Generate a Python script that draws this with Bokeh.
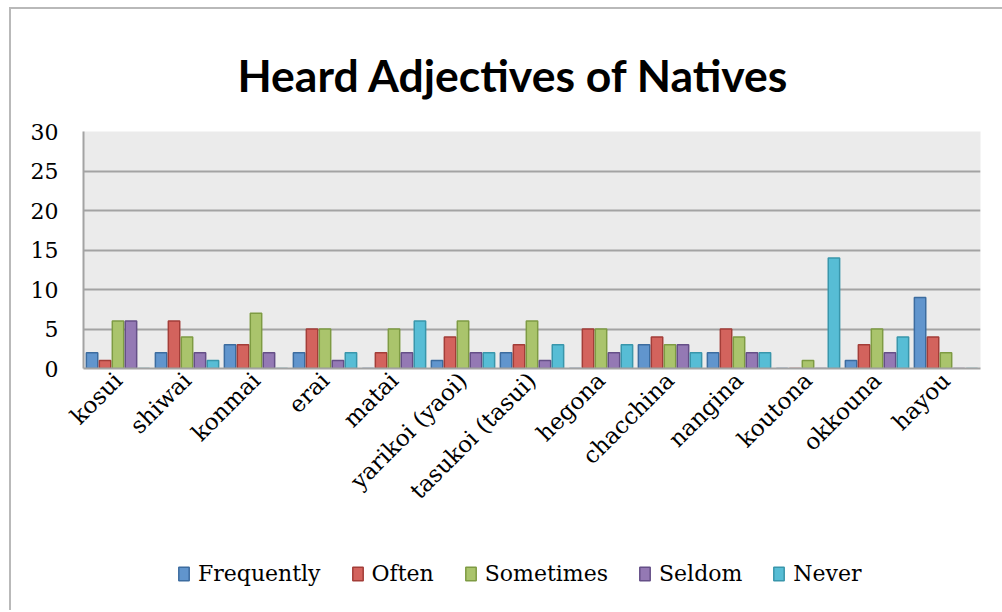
import math
import numpy as np
from bokeh.plotting import figure
from bokeh.models import FactorRange, Legend, LegendItem, ColumnDataSource, Range1d
from bokeh.layouts import column
from bokeh.transform import dodge
from bokeh.embed import file_html
from bokeh.resources import INLINE

categories = ["kosui", "shiwai", "konmai", "erai", "matai", "yarikoi (yaoi)",
              "tasukoi (tasui)", "hegona", "chacchina", "nangina", "koutona",
              "okkouna", "hayou"]
frequently = [2, 2, 3, 2, 0, 1, 2, 0, 3, 2, 0, 1, 9]
often      = [1, 6, 3, 5, 2, 4, 3, 5, 4, 5, 0, 3, 4]
sometimes  = [6, 4, 7, 5, 5, 6, 6, 5, 3, 4, 1, 5, 2]
seldom     = [6, 2, 2, 1, 2, 2, 1, 2, 3, 2, 0, 2, 0]
never      = [0, 1, 0, 2, 6, 2, 3, 3, 2, 2, 14, 4, 0]
series_names = ["Frequently", "Often", "Sometimes", "Seldom", "Never"]
y_ticks = [0, 5, 10, 15, 20, 25, 30]

fills = ["#6195CD", "#D3635D", "#AAC46C", "#9479B4", "#57BDD5"]
lines = ["#3C6C9F", "#A33D38", "#7E9B43", "#654F87", "#3996AB"]

src = ColumnDataSource(dict(cat=categories, s0=frequently, s1=often,
                            s2=sometimes, s3=seldom, s4=never))

p = figure(x_range=FactorRange(*categories), y_range=(0, 30),
           width=1002, height=540, output_backend="svg", toolbar_location=None,
           min_border_left=83, min_border_right=22, min_border_top=131,
           min_border_bottom=172)

p.border_fill_color = None
p.background_fill_color = "#EBEBEB"
p.outline_line_color = None

pitch = 0.188
for i in range(5):
    p.vbar(x=dodge("cat", (i - 2) * pitch, range=p.x_range), top="s%d" % i,
           width=0.165, source=src, fill_color=fills[i], line_color=lines[i],
           line_width=1.5)

p.title.text = "Heard Adjectives of Natives"
p.title.text_font = "Lato"
p.title.text_font_style = "bold"
p.title.text_font_size = "44.5px"
p.title.align = "left"
p.title.offset = 154
p.title.standoff = 61
p.title.text_color = "#000000"

p.xgrid.grid_line_color = None
p.ygrid.grid_line_color = "#A3A3A3"
p.ygrid.grid_line_width = 2
p.yaxis.ticker = y_ticks

for ax in (p.xaxis, p.yaxis):
    ax.axis_line_color = "#A3A3A3"
    ax.axis_line_width = 2
    ax.major_tick_line_color = None
    ax.minor_tick_line_color = None
    ax.major_tick_out = 0
    ax.major_label_text_font = "DejaVu Serif"
    ax.major_label_text_color = "#000000"

p.yaxis.major_label_text_font_size = "22px"
p.yaxis.major_label_standoff = 25
p.xaxis.major_label_text_font_size = "23px"
p.xaxis.major_label_orientation = math.pi / 4
p.xaxis.major_label_standoff = 8

# legend strip below the chart
q = figure(width=1002, height=70, output_backend="svg", toolbar_location=None,
           x_range=Range1d(0, 1), y_range=Range1d(0, 1),
           min_border_left=0, min_border_right=0, min_border_top=0,
           min_border_bottom=0)
q.axis.visible = False
q.grid.visible = False
q.outline_line_color = None
q.border_fill_color = None
q.background_fill_color = None
items = []
for i in range(5):
    r = q.vbar(x=np.array([0.5]), top=np.array([np.nan]), width=0.1,
               fill_color=fills[i], line_color=lines[i], line_width=1.5)
    items.append(LegendItem(label=series_names[i], renderers=[r]))
legend = Legend(items=items, orientation="horizontal", location=(94, 24),
                border_line_color=None, background_fill_alpha=0,
                padding=0, margin=0, spacing=30, label_standoff=8,
                glyph_width=13, glyph_height=17,
                label_text_font="DejaVu Serif", label_text_font_size="22px",
                label_text_color="#000000")
q.add_layout(legend, "center")

layout = column(p, q, spacing=0)
layout.styles = {
    "background-color": "#ffffff",
    "background-image": "linear-gradient(#b9b9b9,#b9b9b9), linear-gradient(#b9b9b9,#b9b9b9)",
    "background-position": "9px 7px, 9px 7px",
    "background-size": "2px 1200px, 1200px 2px",
    "background-repeat": "no-repeat, no-repeat",
}

open("out.html", "w").write(file_html(layout, INLINE))
